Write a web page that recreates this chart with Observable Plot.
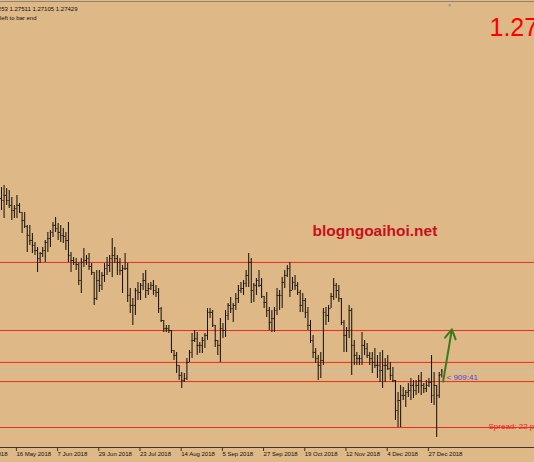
<!DOCTYPE html>
<html><head><meta charset="utf-8">
<script src="https://cdn.jsdelivr.net/npm/d3@7"></script>
<script src="https://cdn.jsdelivr.net/npm/@observablehq/plot@0.6"></script>
<style>html,body{margin:0;padding:0;background:#deb887;overflow:hidden;width:534px;height:462px}</style>
</head><body><div id="chart"></div>
<script>
const high = [
1.3606,1.3616,1.3601,1.3592,1.3559,1.3522,1.3569,1.3531,1.3489,1.3489,
1.3428,1.3428,1.3390,1.3348,1.3324,1.3301,1.3324,1.3357,1.3395,1.3404,
1.3442,1.3465,1.3437,1.3428,1.3413,1.3395,1.3442,1.3301,1.3277,1.3272,
1.3254,1.3272,1.3319,1.3287,1.3296,1.3249,1.3207,1.3216,1.3216,1.3207,
1.3249,1.3277,1.3287,1.3366,1.3324,1.3287,1.3272,1.3240,1.3296,1.3249,
1.3131,1.3084,1.3131,1.3160,1.3155,1.3202,1.3216,1.3155,1.3160,1.3169,
1.3146,1.3131,1.3042,1.2981,1.2958,1.2958,1.2934,1.2840,1.2831,1.2770,
1.2737,1.2732,1.2802,1.2840,1.2920,1.2934,1.2925,1.2878,1.2901,1.2920,
1.3037,1.3037,1.3028,1.2958,1.2887,1.2990,1.2967,1.3028,1.3061,1.3089,
1.3061,1.3108,1.3146,1.3160,1.3169,1.3216,1.3296,1.3272,1.3155,1.3178,
1.3216,1.3178,1.3094,1.3113,1.3042,1.3028,1.3042,1.3131,1.3122,1.3183,
1.3216,1.3240,1.3254,1.3183,1.3193,1.3160,1.3122,1.3108,1.3084,1.3042,
1.2981,1.2911,1.2849,1.2817,1.2831,1.3037,1.3042,1.3052,1.3108,1.3178,
1.3155,1.3146,1.3084,1.2981,1.2948,1.3052,1.3037,1.2887,1.2831,1.2817,
1.2925,1.2887,1.2873,1.2831,1.2831,1.2849,1.2817,1.2831,1.2840,1.2802,
1.2817,1.2784,1.2760,1.2699,1.2643,1.2676,1.2666,1.2652,1.2685,1.2708,
1.2699,1.2699,1.2723,1.2737,1.2685,1.2699,1.2708,1.2817,1.2737,1.2676,
1.2737,1.2751];
const low = [
1.3498,1.3460,1.3522,1.3507,1.3451,1.3460,1.3460,1.3484,1.3390,1.3413,
1.3301,1.3334,1.3296,1.3287,1.3207,1.3249,1.3277,1.3254,1.3301,1.3324,
1.3371,1.3395,1.3357,1.3348,1.3343,1.3310,1.3254,1.3207,1.3240,1.3216,
1.3146,1.3108,1.3230,1.3240,1.3216,1.3193,1.3052,1.3075,1.3113,1.3122,
1.3160,1.3193,1.3207,1.3183,1.3249,1.3193,1.3193,1.3108,1.3216,1.3066,
1.3014,1.2958,1.3005,1.3075,1.3075,1.3122,1.3084,1.3099,1.3122,1.3099,
1.3089,1.3014,1.2972,1.2925,1.2925,1.2920,1.2826,1.2793,1.2732,1.2699,
1.2661,1.2690,1.2699,1.2784,1.2802,1.2878,1.2817,1.2826,1.2826,1.2849,
1.2887,1.2990,1.2948,1.2854,1.2817,1.2784,1.2896,1.2901,1.2981,1.3014,
1.2972,1.3028,1.3061,1.3108,1.3099,1.3136,1.3136,1.3061,1.3066,1.3099,
1.3136,1.3084,1.3037,1.2995,1.2934,1.2925,1.2925,1.3005,1.3028,1.3037,
1.3131,1.3183,1.3089,1.3122,1.3122,1.3099,1.3019,1.3019,1.2990,1.2934,
1.2873,1.2802,1.2779,1.2699,1.2708,1.2770,1.2958,1.2972,1.3037,1.3075,
1.3084,1.3066,1.2958,1.2831,1.2831,1.2896,1.2723,1.2770,1.2770,1.2770,
1.2770,1.2817,1.2802,1.2770,1.2732,1.2755,1.2708,1.2690,1.2661,1.2690,
1.2746,1.2699,1.2690,1.2511,1.2478,1.2478,1.2605,1.2572,1.2619,1.2605,
1.2614,1.2629,1.2638,1.2629,1.2638,1.2643,1.2666,1.2591,1.2582,1.2431,
1.2614,1.2711];
const open = [
1.3554,1.3545,1.3569,1.3545,1.3522,1.3498,1.3507,1.3522,1.3489,1.3451,
1.3423,1.3381,1.3357,1.3334,1.3310,1.3272,1.3296,1.3310,1.3348,1.3366,
1.3395,1.3428,1.3413,1.3395,1.3381,1.3376,1.3357,1.3287,1.3263,1.3254,
1.3244,1.3169,1.3254,1.3263,1.3272,1.3235,1.3207,1.3084,1.3169,1.3146,
1.3193,1.3225,1.3240,1.3272,1.3287,1.3272,1.3254,1.3216,1.3225,1.3225,
1.3099,1.3052,1.3052,1.3122,1.3113,1.3146,1.3169,1.3122,1.3131,1.3146,
1.3122,1.3113,1.3037,1.2981,1.2943,1.2943,1.2934,1.2840,1.2817,1.2770,
1.2723,1.2699,1.2708,1.2784,1.2831,1.2887,1.2896,1.2864,1.2864,1.2887,
1.2911,1.3019,1.3019,1.2958,1.2887,1.2864,1.2943,1.2934,1.3005,1.3052,
1.3037,1.3052,1.3084,1.3122,1.3131,1.3155,1.3193,1.3254,1.3122,1.3146,
1.3169,1.3146,1.3094,1.3066,1.3028,1.2972,1.2990,1.3028,1.3099,1.3099,
1.3160,1.3193,1.3225,1.3122,1.3160,1.3146,1.3113,1.3052,1.3075,1.3019,
1.2958,1.2887,1.2831,1.2802,1.2770,1.2793,1.3019,1.3005,1.3037,1.3094,
1.3146,1.3122,1.3084,1.2972,1.2911,1.2934,1.3028,1.2864,1.2817,1.2802,
1.2802,1.2864,1.2849,1.2817,1.2802,1.2784,1.2770,1.2770,1.2746,1.2770,
1.2770,1.2755,1.2723,1.2699,1.2558,1.2605,1.2629,1.2629,1.2643,1.2652,
1.2676,1.2652,1.2676,1.2699,1.2676,1.2661,1.2676,1.2690,1.2629,1.2676,
1.2629,1.27253];
const close = [
1.3545,1.3569,1.3545,1.3522,1.3498,1.3507,1.3522,1.3489,1.3451,1.3423,
1.3381,1.3357,1.3334,1.3310,1.3272,1.3296,1.3310,1.3348,1.3366,1.3395,
1.3428,1.3413,1.3395,1.3381,1.3376,1.3357,1.3287,1.3263,1.3254,1.3244,
1.3169,1.3254,1.3263,1.3272,1.3235,1.3207,1.3084,1.3169,1.3146,1.3193,
1.3225,1.3240,1.3272,1.3287,1.3272,1.3254,1.3216,1.3225,1.3225,1.3099,
1.3052,1.3052,1.3122,1.3113,1.3146,1.3169,1.3122,1.3131,1.3146,1.3122,
1.3113,1.3037,1.2981,1.2943,1.2943,1.2934,1.2840,1.2817,1.2770,1.2723,
1.2699,1.2708,1.2784,1.2831,1.2887,1.2896,1.2864,1.2864,1.2887,1.2911,
1.3019,1.3019,1.2958,1.2887,1.2864,1.2943,1.2934,1.3005,1.3052,1.3037,
1.3052,1.3084,1.3122,1.3131,1.3155,1.3193,1.3254,1.3122,1.3146,1.3169,
1.3146,1.3094,1.3066,1.3028,1.2972,1.2990,1.3028,1.3099,1.3099,1.3160,
1.3193,1.3225,1.3122,1.3160,1.3146,1.3113,1.3052,1.3075,1.3019,1.2958,
1.2887,1.2831,1.2802,1.2770,1.2793,1.3019,1.3005,1.3037,1.3094,1.3146,
1.3122,1.3084,1.2972,1.2911,1.2934,1.3028,1.2864,1.2817,1.2802,1.2802,
1.2864,1.2849,1.2817,1.2802,1.2784,1.2770,1.2770,1.2746,1.2770,1.2770,
1.2755,1.2723,1.2699,1.2558,1.2605,1.2629,1.2629,1.2643,1.2652,1.2676,
1.2652,1.2676,1.2699,1.2676,1.2661,1.2676,1.2690,1.2629,1.2676,1.2629,
1.2723,1.27429];

// x-axis date labels (every 16 bars)
const tickIdx = [-11, 5, 21, 37, 53, 69, 85, 101, 117, 133, 149, 165];
const tickLabels = ["24 Apr 2018","16 May 2018","7 Jun 2018","29 Jun 2018","23 Jul 2018","14 Aug 2018",
  "5 Sep 2018","27 Sep 2018","19 Oct 2018","12 Nov 2018","4 Dec 2018","27 Dec 2018"];

// horizontal levels, bid line, arrow
const levels = [1.3254, 1.2934, 1.2784, 1.2694, 1.2478];
const bidPrice = [1.27429];
const arrowX = [171.5, 174.9];
const arrowPrice = [1.2694, 1.2939];

const headerLine1 = "GBPUSD,Daily  1.27253 1.27511 1.27105 1.27429";
const headerLine2 = "Time left to bar end";
const bigPrice = "1.27429";
const watermark = "blogngoaihoi.net";
const timerText = "< 909:41";
const spreadText = "Spread: 22 points";

const bars = high.map((h, i) => ({i, high: h, low: low[i], open: open[i], close: close[i]}));
const labelOf = new Map(tickIdx.map((d, k) => [d, tickLabels[k]]));
const barColor = "#1a140c";
const F = "Liberation Sans";

const chart = Plot.plot({
  width: 534, height: 462,
  marginTop: 1, marginBottom: 15, marginLeft: 0, marginRight: 0,
  style: {background: "#deb887", fontFamily: F, overflow: "hidden"},
  x: {domain: [-0.39, 206.99], axis: null},
  y: {domain: [1.23841, 1.44803], axis: null},
  marks: [
    Plot.frame({anchor: "top", stroke: "#8f826f"}),
    Plot.ruleY(levels, {stroke: "#ee2b1e", strokeWidth: 1}),
    Plot.ruleY(bidPrice, {stroke: "#c9c0b2", strokeWidth: 1}),
    Plot.ruleX(bars, {x: "i", y1: "low", y2: "high", stroke: barColor, strokeWidth: 1.05}),
    Plot.ruleY(bars, {y: "open", x1: d => d.i - 0.45, x2: "i", stroke: barColor, strokeWidth: 0.9}),
    Plot.ruleY(bars, {y: "close", x1: "i", x2: d => d.i + 0.45, stroke: barColor, strokeWidth: 0.9}),
    Plot.arrow([{x1: arrowX[0], y1: arrowPrice[0], x2: arrowX[1], y2: arrowPrice[1]}],
      {x1: "x1", y1: "y1", x2: "x2", y2: "y2", stroke: "#3c7a1c", strokeWidth: 2, headLength: 8}),
    Plot.frame({anchor: "bottom", stroke: "#3a3530"}),
    Plot.axisX(tickIdx, {anchor: "bottom", label: null, tickSize: 4, tickPadding: 0, textAnchor: "start",
      dx: 2, fontSize: 6, tickFormat: d => labelOf.get(d), stroke: "#3a3530", fill: "#111"}),
    Plot.text([headerLine1], {frameAnchor: "top-left", dx: 77, dy: 5.5, textAnchor: "end", fontSize: 6, fill: "#111"}),
    Plot.text([headerLine2], {frameAnchor: "top-left", dx: 36, dy: 14, textAnchor: "end", fontSize: 6, fill: "#111"}),
    Plot.text(["▼"], {frameAnchor: "top-left", dx: 446.5, dy: 2, fontSize: 5, fill: "#8797b0"}),
    Plot.text([bigPrice], {frameAnchor: "top-left", dx: 489, dy: 17, textAnchor: "start", fontSize: 25, fill: "#ff0000"}),
    Plot.text([watermark], {frameAnchor: "top-left", dx: 312, dy: 223.5, textAnchor: "start", fontSize: 15.5, fontWeight: "bold", fill: "#c8101a"}),
    Plot.text([timerText], {frameAnchor: "top-left", dx: 446, dy: 373, textAnchor: "start", fontSize: 8, fill: "#4848d8"}),
    Plot.text([spreadText], {frameAnchor: "top-left", dx: 488, dy: 422, textAnchor: "start", fontSize: 8, fill: "#ee2222"})
  ]
});
document.getElementById("chart").appendChild(chart);
</script>
</body></html>
